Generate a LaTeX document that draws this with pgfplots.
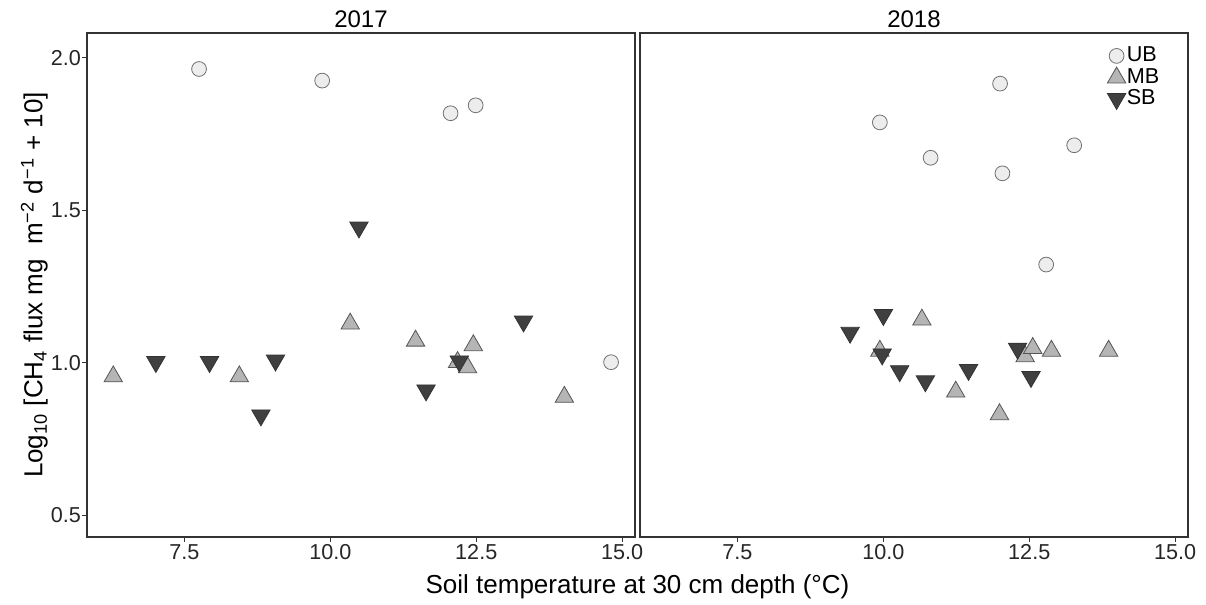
\documentclass[border=0pt]{standalone}
\usepackage{fontspec}
\setmainfont{Liberation Sans}
\usepackage{pgfplots}
\pgfplotsset{compat=1.18}

\definecolor{ubfill}{HTML}{EDEDED}
\definecolor{ubedge}{HTML}{707070}
\definecolor{mbfill}{HTML}{B5B5B5}
\definecolor{mbedge}{HTML}{555555}
\definecolor{sbfill}{HTML}{404040}
\definecolor{frame}{HTML}{333333}

\pgfplotsset{
  panel/.style={
    width=274pt, height=252pt, scale only axis,
    xmin=5.83, xmax=15.22, ymin=0.429, ymax=2.081,
    axis line style={frame, line width=0.55pt},
    xtick={7.5,10,12.5,15}, xticklabels={7.5,10.0,12.5,15.0},
    tick align=outside, major tick length=2.3pt,
    tick style={frame, line width=0.5pt},
    tick pos=left,
    ticklabel style={font=\fontsize{10.8}{12}\selectfont, text=black!85},
    xticklabel style={yshift=2.2pt},
    yticklabel style={xshift=2.8pt},
    /pgf/number format/assume math mode=true,
    every axis title/.style={at={(0.5,1)}, anchor=base, inner sep=0pt, yshift=2.6pt,
      font=\fontsize{12}{14}\selectfont},
  },
  ub/.style={only marks, mark=*, mark size=3.7pt,
    mark options={fill=ubfill, draw=ubedge, line width=0.4pt}},
  mb/.style={only marks, mark=triangle*, mark size=5.3pt,
    mark options={fill=mbfill, draw=mbedge, line width=0.4pt}},
  sb/.style={only marks, mark=triangle*, mark size=5.3pt,
    mark options={fill=sbfill, draw=sbfill!80!black, line width=0.4pt, rotate=180}},
}

\begin{document}
\begin{tikzpicture}
\useasboundingbox (-43.5pt,-34pt) rectangle (559.5pt,268.5pt);

% 2017
\begin{axis}[panel, title={2017},
    ytick={0.5,1,1.5,2}, yticklabels={0.5,1.0,1.5,2.0}]
  \addplot[ub] coordinates {(7.75,1.963) (9.86,1.925) (12.06,1.818) (12.49,1.844) (14.81,1.002)};
  \addplot[mb] coordinates {(6.28,0.955) (8.44,0.955) (10.34,1.128) (11.46,1.072)
    (12.45,1.057) (12.18,1.002) (12.35,0.985) (14.01,0.888)};
  \addplot[sb] coordinates {(7.01,1.003) (7.93,1.003) (9.06,1.008) (8.81,0.828)
    (10.49,1.444) (11.64,0.910) (12.21,1.005) (13.31,1.136)};
\end{axis}

% 2018
\begin{axis}[panel, at={(276.5pt,0pt)}, title={2018}, ytick=\empty,
    legend style={at={(0.95,0.975)}, anchor=north east, draw=none, fill=none,
      inner sep=0pt, row sep=0.6pt, cells={anchor=west},
      font=\fontsize{10.8}{11}\selectfont,
      nodes={inner sep=0.5pt}},
    legend image code/.code={\draw[#1] plot coordinates {(0.14cm,0cm)};}]
  \addplot[ub] coordinates {(9.94,1.788) (10.81,1.672) (12.00,1.915) (12.04,1.621)
    (13.27,1.713) (12.79,1.322)};
  \addlegendentry{UB}
  \addplot[mb] coordinates {(10.66,1.141) (9.94,1.039) (11.24,0.905) (11.99,0.831)
    (12.43,1.021) (12.56,1.048) (12.88,1.039) (13.86,1.039)};
  \addlegendentry{MB}
  \addplot[sb] coordinates {(9.43,1.099) (10.00,1.157) (9.98,1.028) (10.28,0.973)
    (10.72,0.940) (11.46,0.977) (12.30,1.047) (12.53,0.954)};
  \addlegendentry{SB}
\end{axis}

\node[anchor=base, font=\fontsize{13}{15}\selectfont] at (275.25pt,-28.5pt)
  {Soil temperature at 30 cm depth (°C)};
\node[anchor=base, rotate=90, font=\fontsize{13}{15}\selectfont] at (-22.3pt,126pt)
  {Log\textsubscript{10} [CH\textsubscript{4} flux mg\ \ m\textsuperscript{−2} d\textsuperscript{−1} + 10]};
\end{tikzpicture}
\end{document}
